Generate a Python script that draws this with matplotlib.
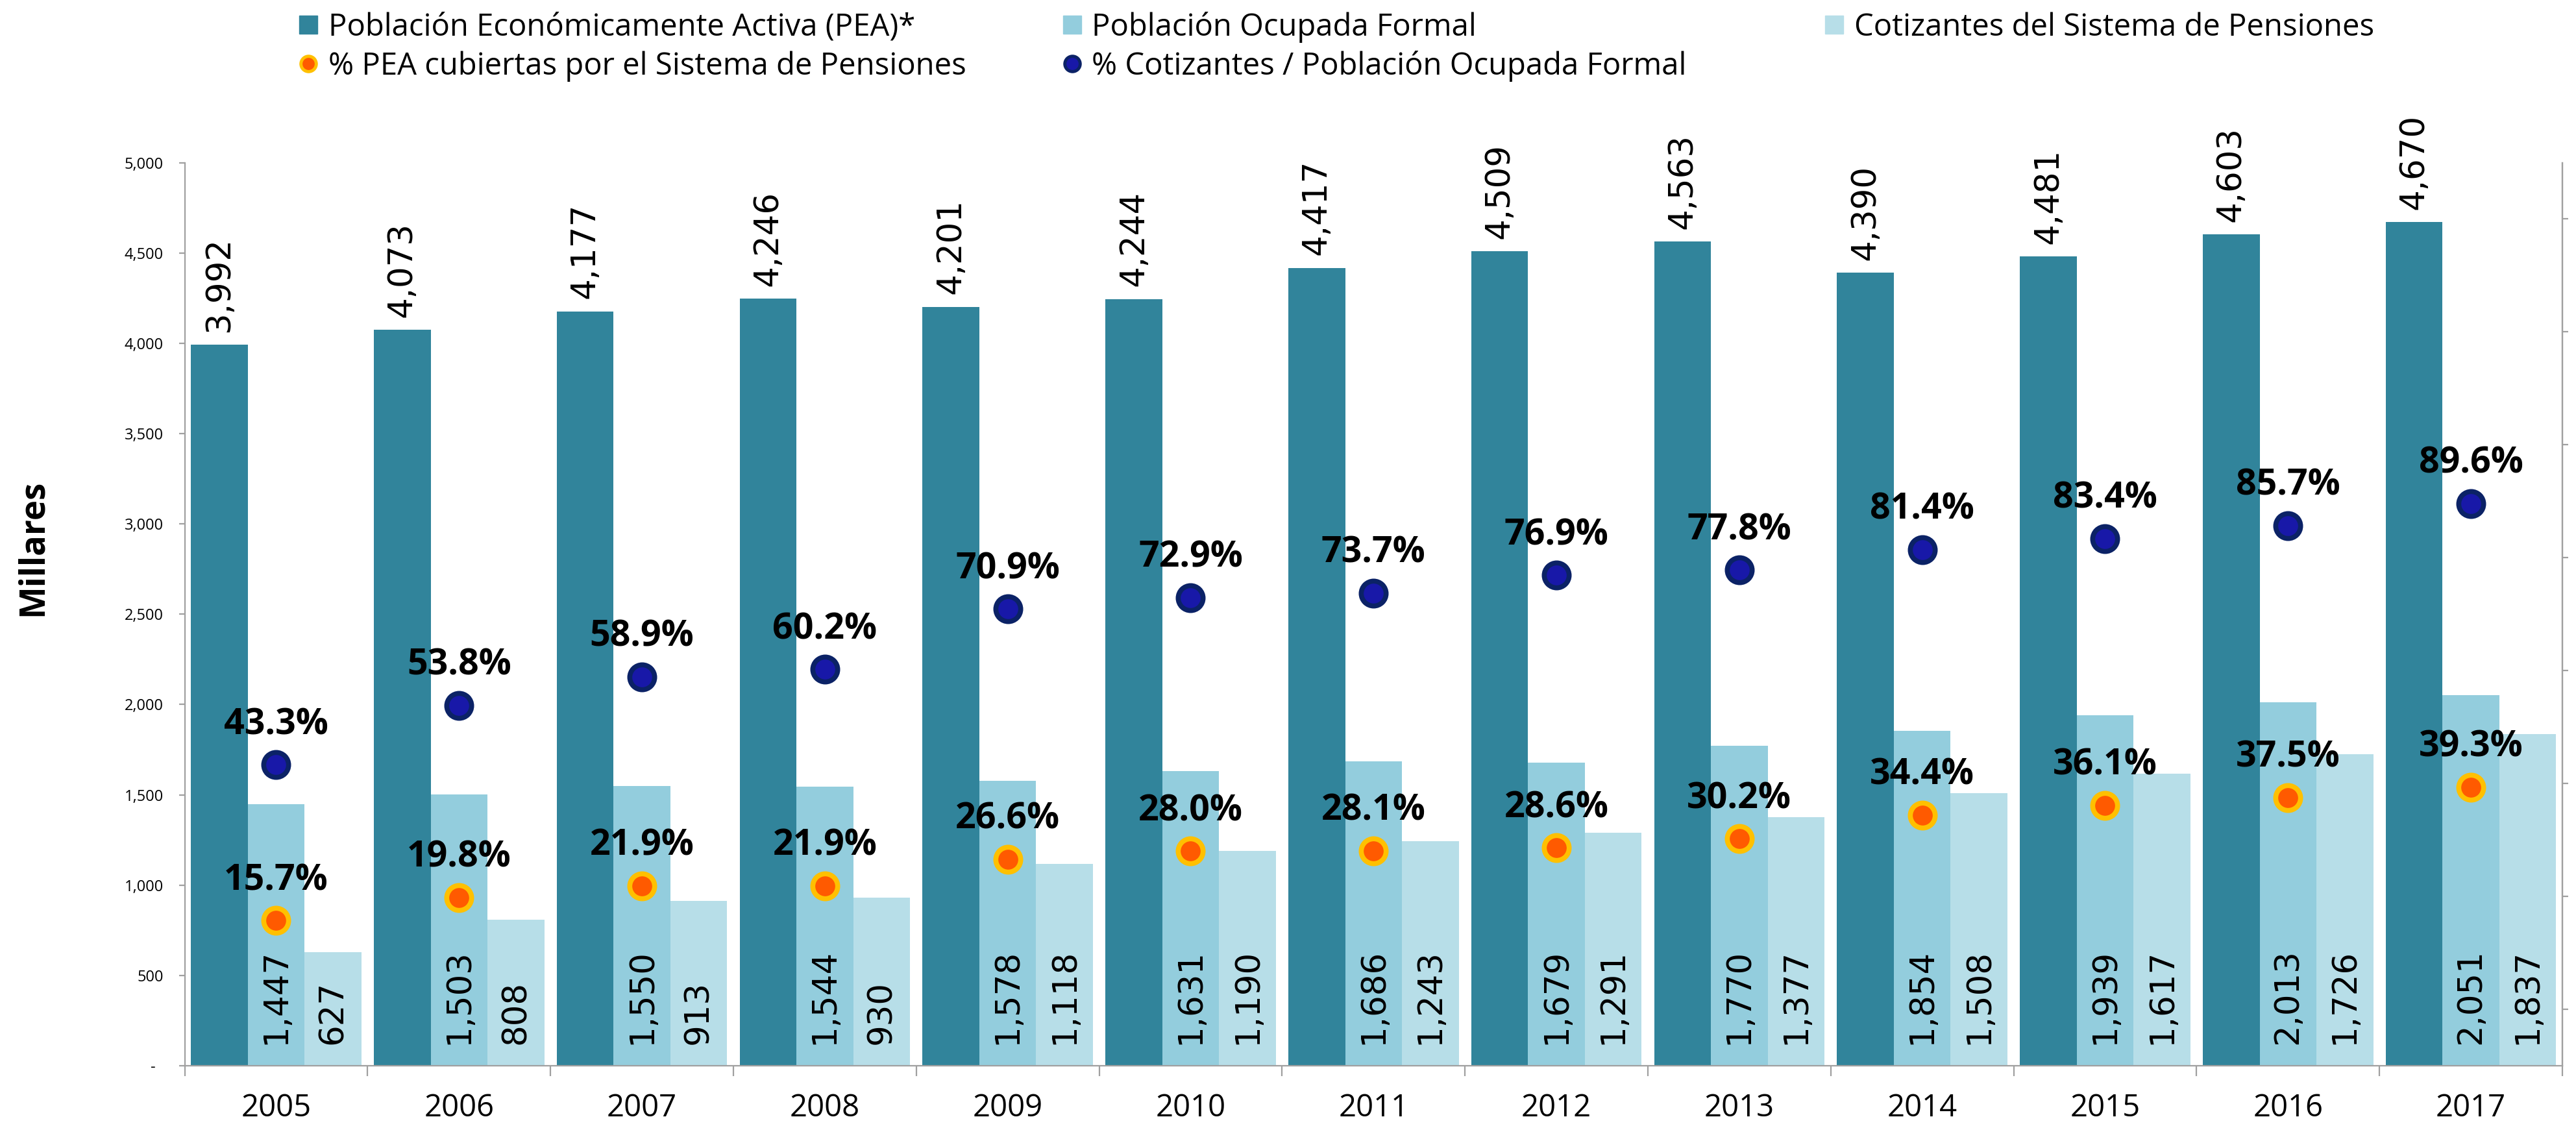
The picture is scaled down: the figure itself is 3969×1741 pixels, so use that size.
"""
Poblacion Economicamente Activa y cobertura del Sistema de Pensiones, 2005-2017
"""

#---------------------------------------------------------------------------------------------------
# Import Modules
#---------------------------------------------------------------------------------------------------

import numpy as np
import matplotlib.pyplot as plt
from matplotlib.lines import Line2D
from matplotlib.ticker import FuncFormatter, MultipleLocator


#---------------------------------------------------------------------------------------------------
# Data (miles de personas)
#---------------------------------------------------------------------------------------------------

years = ['2005', '2006', '2007', '2008', '2009', '2010', '2011', '2012', '2013', '2014', '2015',
         '2016', '2017']
pea = [3992, 4073, 4177, 4246, 4201, 4244, 4417, 4509, 4563, 4390, 4481, 4603, 4670]
ocupada = [1447, 1503, 1550, 1544, 1578, 1631, 1686, 1679, 1770, 1854, 1939, 2013, 2051]
cotizantes = [627, 808, 913, 930, 1118, 1190, 1243, 1291, 1377, 1508, 1617, 1726, 1837]
pct_pea = [15.7, 19.8, 21.9, 21.9, 26.6, 28.0, 28.1, 28.6, 30.2, 34.4, 36.1, 37.5, 39.3]
pct_cot = [43.3, 53.8, 58.9, 60.2, 70.9, 72.9, 73.7, 76.9, 77.8, 81.4, 83.4, 85.7, 89.6]

labels = ['Población Económicamente Activa (PEA)*',
          'Población Ocupada Formal',
          'Cotizantes del Sistema de Pensiones',
          '% PEA cubiertas por el Sistema de Pensiones',
          '% Cotizantes / Población Ocupada Formal']

# Colors
c_pea = '#31849B'
c_ocu = '#93CDDD'
c_cot = '#B7DEE8'
c_axis = '#A0A0A0'

out_fname = 'out.png'


#---------------------------------------------------------------------------------------------------
# Make Plot
#---------------------------------------------------------------------------------------------------

fig = plt.figure(figsize=(39.69, 17.41), dpi=100)
ax = fig.add_axes([0.0717, 0.0569, 0.923, 0.7992])

x = np.arange(len(years))
w = 0.3105
ax.bar(x - w, pea, w, color=c_pea, zorder=2)
ax.bar(x, ocupada, w, color=c_ocu, zorder=2)
ax.bar(x + w, cotizantes, w, color=c_cot, zorder=2)

# Bar labels
for xi, v in zip(x - w, pea):
    ax.annotate(f'{v:,}', (xi, v), xytext=(0, 14), textcoords='offset points', rotation=90,
                ha='center', va='bottom', fontsize=37, family='DejaVu Sans')
for off, vals in [(0, ocupada), (w, cotizantes)]:
    for xi, v in zip(x + off, vals):
        ax.annotate(f'{v:,}', (xi, 0), xytext=(0, 24), textcoords='offset points', rotation=90,
                    ha='center', va='bottom', fontsize=37, family='DejaVu Sans', zorder=3)

ax.set_xlim(-0.5, len(years) - 0.5)
ax.set_ylim(0, 5000)
ax.yaxis.set_major_locator(MultipleLocator(500))
ax.yaxis.set_major_formatter(FuncFormatter(lambda v, p: '-  ' if v == 0 else f'{v:,.0f}'))
ax.set_xticks(x)
ax.set_xticklabels(years, family='Open Sans', fontsize=34)
ax.set_xticks(np.arange(len(years) + 1) - 0.5, minor=True)
ax.tick_params(axis='x', which='major', length=0, pad=30)
ax.tick_params(axis='x', which='minor', length=11.5, width=1.6, color=c_axis, direction='out')
ax.tick_params(axis='y', length=6.5, width=1.6, color=c_axis, pad=17, labelsize=17)
for t in ax.get_yticklabels():
    t.set_family('Open Sans')
for s in ['left', 'right', 'bottom']:
    ax.spines[s].set_color(c_axis)
    ax.spines[s].set_linewidth(1.6)
ax.spines['top'].set_visible(False)

# Percentages on secondary axis
ax2 = ax.twinx()
ax2.set_ylim(-0.1, 1.5)
ax2.yaxis.set_major_locator(MultipleLocator(0.2))
ax2.tick_params(axis='y', length=6.5, width=1.6, color=c_axis, labelright=False)
ax2.spines['right'].set_color(c_axis)
ax2.spines['right'].set_linewidth(1.6)
ax2.spines['top'].set_visible(False)
ax2.spines['left'].set_visible(False)
ax2.spines['bottom'].set_visible(False)

orange_kw = dict(ls='none', marker='o', ms=27.6, mfc='#FF5A00', mec='#FFC000', mew=5.5)
blue_kw = dict(ls='none', marker='o', ms=27.6, mfc='#1818A8', mec='#0B2266', mew=5.5)
ax2.plot(x, np.array(pct_pea) / 100, **orange_kw)
ax2.plot(x, np.array(pct_cot) / 100, **blue_kw)
for vals in [pct_pea, pct_cot]:
    for xi, v in zip(x, vals):
        ax2.annotate(f'{v:.1f}%', (xi, v / 100), xytext=(0, 34), textcoords='offset points',
                     ha='center', va='baseline', fontsize=40, fontweight='bold',
                     family='Open Sans')

fig.text(0.0128, 0.5152, 'Millares', rotation=90, ha='center', va='center', fontsize=38,
         fontweight='bold', family='Open Sans')

# Legend (one entry per box so the columns sit where the original has them)
handles = [Line2D([], [], ls='none', marker='s', ms=20, color=c_pea),
           Line2D([], [], ls='none', marker='s', ms=20, color=c_ocu),
           Line2D([], [], ls='none', marker='s', ms=20, color=c_cot),
           Line2D([], [], **dict(orange_kw, ms=17, mew=3.5)),
           Line2D([], [], **dict(blue_kw, ms=17, mew=3.5))]
leg_pos = [(0.1155, 0.9759), (0.412, 0.9759), (0.7079, 0.9759), (0.1155, 0.9414), (0.412, 0.9414)]
for h, lab, pos in zip(handles, labels, leg_pos):
    leg = fig.legend(handles=[h], labels=[lab], loc='center left', bbox_to_anchor=pos,
                     frameon=False, borderpad=0, borderaxespad=0, handlelength=0.7,
                     handletextpad=0.3, prop={'family': 'Open Sans', 'size': 34})

plt.savefig(out_fname)
